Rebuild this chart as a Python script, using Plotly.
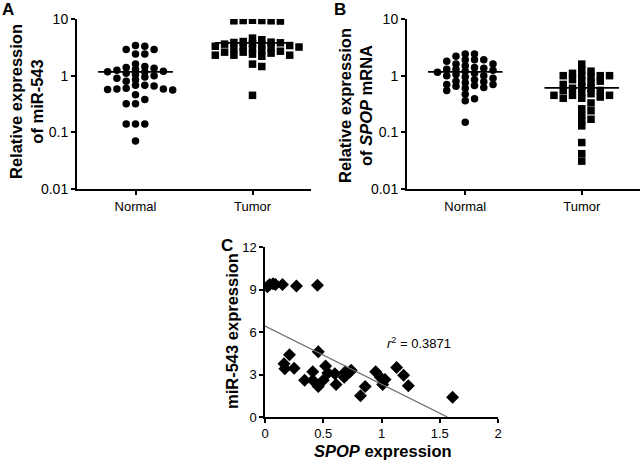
import numpy as np
import plotly.graph_objects as go

# ---------------- data ----------------
categories = ["Normal", "Tumor"]

a_normal = [3.4, 3.3, 2.9, 2.9, 2.4, 2.4, 1.6, 1.45, 1.4, 1.35, 1.3, 1.25, 1.2,
            1.17, 1.17, 1.1, 1.05, 1.0, 0.95, 0.9, 0.85, 0.8, 0.68, 0.68, 0.66,
            0.6, 0.58, 0.58, 0.57, 0.56, 0.46, 0.38, 0.32, 0.32, 0.14, 0.14,
            0.14, 0.07]
a_tumor = [9.5, 9.4, 9.3, 9.3, 9.2, 9.4, 4.6, 4.3, 4.0, 3.9, 3.85, 3.8, 3.7,
           3.6, 3.5, 3.4, 3.3, 3.2, 3.2, 3.1, 3.0, 2.9, 2.8, 2.7, 2.6, 2.6,
           2.5, 2.4, 2.3, 2.3, 2.3, 2.2, 1.6, 1.45, 0.45]
a_centre = [1.17, 3.8]

b_normal = [2.4, 2.4, 2.2, 1.9, 1.9, 1.9, 1.8, 1.6, 1.6, 1.5, 1.4, 1.35, 1.3,
            1.3, 1.25, 1.2, 1.15, 1.1, 1.05, 1.0, 1.0, 0.95, 0.9, 0.85, 0.8,
            0.78, 0.75, 0.7, 0.7, 0.67, 0.65, 0.62, 0.6, 0.55, 0.47, 0.39,
            0.36, 0.15]
b_tumor = [1.6, 1.25, 1.2, 1.1, 1.0, 1.0, 1.0, 1.0, 0.95, 0.85, 0.8, 0.8,
           0.75, 0.7, 0.65, 0.6, 0.6, 0.55, 0.55, 0.5, 0.48, 0.45, 0.45, 0.45,
           0.42, 0.4, 0.4, 0.33, 0.26, 0.24, 0.2, 0.17, 0.16, 0.13, 0.066,
           0.042, 0.031]
b_centre = [1.17, 0.61]

c_spop = [0.02, 0.04, 0.07, 0.09, 0.15, 0.27, 0.45,
          0.163, 0.17, 0.21, 0.25, 0.34, 0.41, 0.41, 0.457, 0.457, 0.5, 0.52,
          0.54, 0.6, 0.61, 0.68, 0.69, 0.73, 0.74, 0.82, 0.86, 0.95, 0.99,
          1.01, 1.03, 1.13, 1.19, 1.23, 1.61]
c_mir = [9.2, 9.35, 9.4, 9.35, 9.35, 9.25, 9.3,
         3.76, 3.4, 4.4, 3.45, 2.6, 3.2, 2.6, 4.6, 2.15, 2.6, 3.6,
         3.1, 3.05, 2.3, 2.8, 3.2, 3.2, 3.3, 1.5, 2.15, 3.2, 2.8,
         2.3, 2.65, 3.5, 2.95, 2.2, 1.4]
fit_intercept = 6.42
fit_slope = -4.1
r2_value = "0.3871"

FONT = "Arial, Liberation Sans, sans-serif"
W, H = 642, 461


def swarm(values, px_per_unit_x, px_per_decade, step=9.3, diam=5.0):
    vals = np.asarray(values, dtype=float)
    ypix = np.log10(vals) * px_per_decade
    order = np.argsort(-vals, kind="stable")
    placed = []
    offs = np.zeros(len(vals))
    ks = [0]
    for k in range(1, 12):
        ks += [k, -k]
    for i in order:
        y = ypix[i]
        for k in ks:
            x = k * step
            if all((x - px) ** 2 + (y - py) ** 2 >= diam ** 2 for px, py in placed):
                break
        placed.append((x, y))
        offs[i] = x / px_per_unit_x
    return offs


PXU = 117.0       # px per category unit in panels A/B
PXD = 56.7        # px per decade on log axes

fig = go.Figure()


def add_group(xref, yref, idx, vals, symbol):
    offs = swarm(vals, PXU, PXD)
    fig.add_trace(go.Scatter(
        x=idx + offs, y=vals, mode="markers", xaxis=xref, yaxis=yref,
        marker=dict(symbol=symbol, size=7.5, color="black",
                    line=dict(width=0)),
        showlegend=False, hoverinfo="skip"))


add_group("x", "y", 0, a_normal, "circle")
add_group("x", "y", 1, a_tumor, "square")
add_group("x2", "y2", 0, b_normal, "circle")
add_group("x2", "y2", 1, b_tumor, "square")

for xa, ya, centres in (("x", "y", a_centre), ("x2", "y2", b_centre)):
    for i, v in enumerate(centres):
        fig.add_trace(go.Scatter(
            x=[i - 0.32, i + 0.32], y=[v, v], mode="lines", xaxis=xa, yaxis=ya,
            line=dict(color="black", width=1.8), showlegend=False,
            hoverinfo="skip"))

# Panel C
fig.add_trace(go.Scatter(
    x=c_spop, y=c_mir, mode="markers", xaxis="x3", yaxis="y3",
    marker=dict(symbol="diamond", size=10, color="black"),
    showlegend=False, hoverinfo="skip"))
x_end = -fit_intercept / fit_slope
fig.add_trace(go.Scatter(
    x=[0, x_end], y=[fit_intercept, fit_intercept + fit_slope * x_end],
    mode="lines", xaxis="x3", yaxis="y3",
    line=dict(color="#6e6e6e", width=1.3), showlegend=False, hoverinfo="skip"))


def px_x(p):
    return p / W


def px_y(p):
    return 1 - p / H


def axis_common(size, lw=2):
    return dict(showline=True, linecolor="black", linewidth=lw,
                ticks="outside", ticklen=4, tickwidth=1.5, tickcolor="black",
                showgrid=False, zeroline=False, automargin=False,
                tickfont=dict(family=FONT, size=size, color="black"))


log_ticks = dict(type="log", range=[-2, 1],
                 tickvals=[0.01, 0.1, 1, 10],
                 ticktext=["0.01", "0.1", "1", "10"])

fig.update_layout(
    width=W, height=H, margin=dict(l=0, r=0, t=0, b=0),
    paper_bgcolor="white", plot_bgcolor="white",
    font=dict(family=FONT, color="black"),
    xaxis=dict(domain=[px_x(77), px_x(311)], range=[-0.5, 1.5],
               tickvals=[0, 1], ticktext=categories, anchor="y",
               **axis_common(13)),
    yaxis=dict(domain=[px_y(189), px_y(19)], anchor="x", **log_ticks,
               **axis_common(14)),
    xaxis2=dict(domain=[px_x(407), px_x(640)], range=[-0.5, 1.5],
                tickvals=[0, 1], ticktext=categories, anchor="y2",
                **axis_common(13)),
    yaxis2=dict(domain=[px_y(189), px_y(19)], anchor="x2", **log_ticks,
                **axis_common(14)),
    xaxis3=dict(domain=[px_x(265), px_x(498)], range=[0, 2],
                tickvals=[0, 0.5, 1, 1.5, 2],
                ticktext=["0", "0.5", "1", "1.5", "2"], anchor="y3",
                **axis_common(13, 1.5)),
    yaxis3=dict(domain=[px_y(417), px_y(247)], range=[0, 12],
                tickvals=[0, 3, 6, 9, 12], anchor="x3",
                **axis_common(13, 1.5)),
)

title_font = dict(family=FONT, size=16.5, color="black")
ann = [
    dict(text="<b>A</b>", x=px_x(0), y=px_y(10), xanchor="left",
         yanchor="middle", font=dict(family=FONT, size=17)),
    dict(text="<b>B</b>", x=px_x(332), y=px_y(10), xanchor="left",
         yanchor="middle", font=dict(family=FONT, size=17)),
    dict(text="<b>C</b>", x=px_x(219), y=px_y(245), xanchor="left",
         yanchor="middle", font=dict(family=FONT, size=17)),
    dict(text="<b>Relative expression<br>of miR-543</b>", x=px_x(26),
         y=px_y(102), textangle=-90, xanchor="center", yanchor="middle",
         font=title_font),
    dict(text="<b>Relative expression<br>of <i>SPOP</i> mRNA</b>",
         x=px_x(356), y=px_y(105), textangle=-90, xanchor="center",
         yanchor="middle", font=title_font),
    dict(text="<b>miR-543 expression</b>", x=px_x(232), y=px_y(331),
         textangle=-90, xanchor="center", yanchor="middle", font=title_font),
    dict(text="<b><i>SPOP</i> expression</b>", x=px_x(383), y=px_y(451),
         xanchor="center", yanchor="middle", font=title_font),
    dict(text="<i>r</i><sup>2</sup> = " + r2_value, x=1.32, y=5.2,
         xref="x3", yref="y3", xanchor="center", yanchor="middle",
         font=dict(family=FONT, size=13, color="black")),
]
for a in ann:
    a.setdefault("xref", "paper")
    a.setdefault("yref", "paper")
    a["showarrow"] = False
fig.update_layout(annotations=ann)

fig.write_html(
    "out.html",
    config={"displayModeBar": False},
    post_script="document.body.style.margin='0';"
                "document.body.style.padding='0';"
                "document.body.style.overflow='hidden';")
